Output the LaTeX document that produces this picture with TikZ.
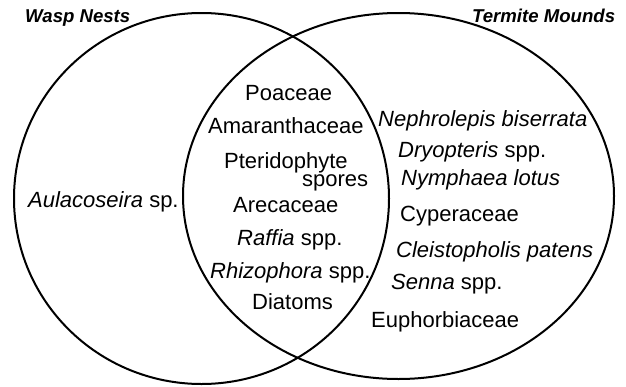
\documentclass[tikz,border=0pt]{standalone}
\usepackage{fontspec}
\setmainfont{Liberation Sans}
\begin{document}
\begin{tikzpicture}[x=1pt, y=-1pt,
    taxon/.style={anchor=base west, inner sep=0pt, font=\fontsize{22}{26}\selectfont},
    setname/.style={anchor=base west, inner sep=0pt, font=\fontsize{18.6}{22}\selectfont\bfseries\itshape}]
    \useasboundingbox (0,0) rectangle (626,386);

    % the two sets
    \draw[line width=2pt] (201.5,198.5) ellipse (187.5pt and 185.5pt);
    \draw[line width=2pt] (398.5,196) ellipse (215.5pt and 183pt);

    \node[setname] (wasp) at (25,22.5) {Wasp Nests};
    \node[setname] (termite) at (472,22.5) {Termite Mounds};

    % wasp nests only
    \node[taxon] (aulaco) at (28,207) {\textit{Aulacoseira} sp.};

    % shared
    \node[taxon] (poaceae) at (245,100) {Poaceae};
    \node[taxon] (amaranth) at (208,133.5) {Amaranthaceae};
    \node[taxon, font=\fontsize{22}{18}\selectfont, align=left] (pterido) at (224,186)
        {Pteridophyte\\\hspace*{78pt}spores};
    \node[taxon] (areca) at (233,212) {Arecaceae};
    \node[taxon] (raffia) at (237,245) {\textit{Raffia} spp.};
    \node[taxon] (rhizo) at (210,278) {\textit{Rhizophora} spp.};
    \node[taxon] (diatoms) at (252,309) {Diatoms};

    % termite mounds only
    \node[taxon] (nephro) at (378,126) {\textit{Nephrolepis biserrata}};
    \node[taxon] (dryo) at (398,157) {\textit{Dryopteris} spp.};
    \node[taxon] (nymph) at (401,185) {\textit{Nymphaea lotus}};
    \node[taxon] (cyper) at (400,221) {Cyperaceae};
    \node[taxon] (cleisto) at (396,257.5) {\textit{Cleistopholis patens}};
    \node[taxon] (senna) at (391,289) {\textit{Senna} spp.};
    \node[taxon] (euphorb) at (371,327.5) {Euphorbiaceae};
\end{tikzpicture}
\end{document}
